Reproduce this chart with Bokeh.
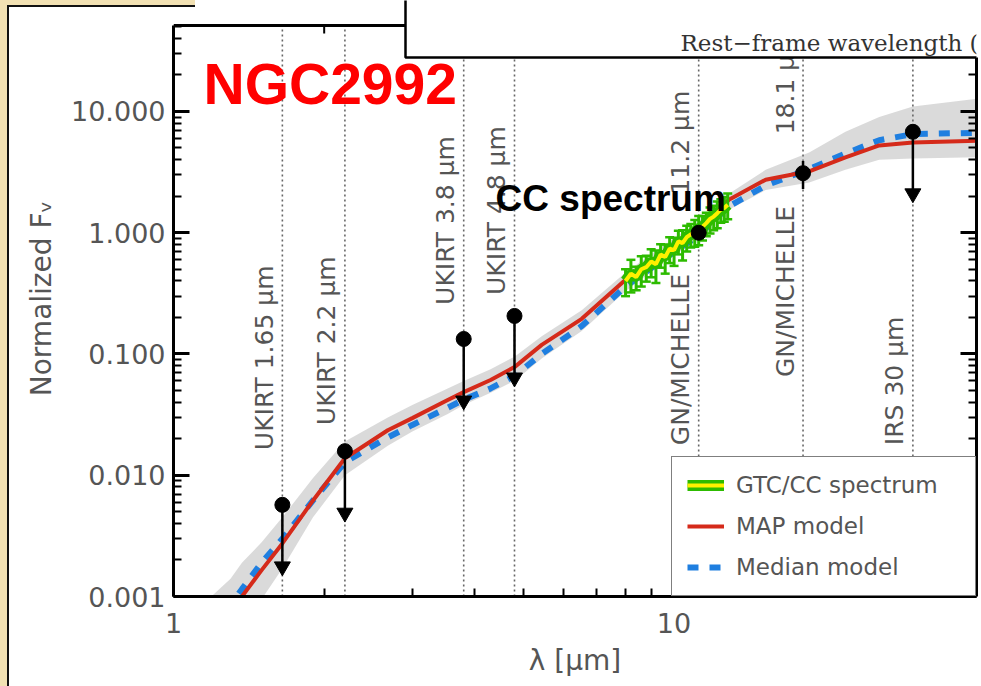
import math
from bokeh.plotting import figure
from bokeh.layouts import column
from bokeh.models import (LogAxis, FixedTicker, PrintfTickFormatter, Label,
                          BoxAnnotation, Legend, LegendItem, Range1d)
from bokeh.core.properties import value
from bokeh.embed import file_html
from bokeh.resources import INLINE

# ---------------- data ----------------
model_wl = [1.19, 1.30, 1.37, 1.50, 1.65, 1.90, 2.20, 2.68, 3.00, 3.53, 3.80, 4.30, 4.80,
            5.44, 6.54, 8.00, 9.50, 11.12, 12.87, 15.24, 18.62, 22.0, 25.70, 30.0, 42.0]
map_model = [0.00047, 0.00075, 0.00100, 0.00165, 0.00274, 0.0062, 0.0138, 0.0235, 0.0296,
             0.0417, 0.0485, 0.061, 0.078, 0.119, 0.195, 0.409, 0.672, 1.06, 1.87, 2.74,
             3.21, 4.18, 5.25, 5.55, 5.75]
median_model = [0.00055, 0.00085, 0.00115, 0.0019, 0.0030, 0.0062, 0.0128, 0.0205, 0.026,
                0.036, 0.042, 0.052, 0.066, 0.100, 0.170, 0.36, 0.60, 0.93, 1.65, 2.45,
                3.35, 4.5, 5.8, 6.5, 6.7]
band_upper = [0.0010, 0.0014, 0.0019, 0.0028, 0.0045, 0.0095, 0.019, 0.030, 0.038, 0.052,
              0.060, 0.075, 0.095, 0.14, 0.23, 0.47, 0.78, 1.2, 2.1, 3.3, 4.6, 6.8, 9.0,
              11.0, 13.0]
band_lower = [0.0003, 0.0004, 0.0005, 0.00095, 0.0017, 0.0045, 0.0100, 0.0175, 0.023, 0.032,
              0.038, 0.048, 0.060, 0.092, 0.155, 0.33, 0.56, 0.88, 1.55, 2.25, 2.6, 3.3, 4.0,
              4.1, 4.2]

spec_wl = [8.0, 8.2, 8.4, 8.6, 8.8, 9.0, 9.2, 9.4, 9.6, 9.8, 10.0, 10.2, 10.4, 10.6, 10.8,
           11.0, 11.2, 11.4, 11.6, 11.8, 12.0, 12.2, 12.4, 12.6, 12.8]
spec_f = [0.40, 0.46, 0.43, 0.50, 0.52, 0.58, 0.55, 0.66, 0.63, 0.74, 0.72, 0.85, 0.82,
          0.92, 0.97, 1.02, 1.08, 1.12, 1.20, 1.30, 1.36, 1.45, 1.55, 1.60, 1.70]
spec_err = [0.25, 0.30, 0.22, 0.28, 0.24, 0.26, 0.30, 0.22, 0.27, 0.24, 0.26, 0.22, 0.28,
            0.24, 0.22, 0.25, 0.27, 0.23, 0.22, 0.24, 0.23, 0.25, 0.22, 0.23, 0.24]

phot_wl = [1.65, 2.2, 3.8, 4.8, 11.2, 18.1, 30.0]
phot_f = [0.0057, 0.0158, 0.133, 0.206, 1.0, 3.1, 6.8]
phot_err = [0.0, 0.0, 0.0, 0.0, 0.1, 0.8, 0.0]
is_upper = [True, True, True, True, False, False, True]

filter_wl = [1.65, 2.2, 3.8, 4.8, 11.2, 18.1, 30.0]
NB = "\u00a0"
filter_labels = ["UKIRT 1.65 μm", "UKIRT 2.2 μm", "UKIRT 3.8 μm", "UKIRT 4.8 μm",
                 "GN/MICHELLE" + NB * 10 + "11.2 μm", "GN/MICHELLE" + NB * 9 + "18.1 μm",
                 "IRS 30 μm"]
label_y = [0.0161, 0.0259, 0.254, 0.307, 0.0177, 0.0646, 0.0177]

x_ticks = [1, 10]
y_ticks = [0.001, 0.01, 0.1, 1, 10]

# ---------------- styles ----------------
GREY_TXT = "#555555"
RED = "#d52a1a"
BLUE = "#1f7fe0"
GREEN = "#2dbb00"
YELLOW = "#fff000"
BEIGE = "#f2e1b3"
XMIN, XMAX = 1.0, 40.2
YMIN, YTOP = 0.001, 51.2     # visible plot box
YFRAME = 82.3                # frame extends up to the canvas top (room for the inset panel)
X_INSET = 2.907              # where the overlapping inset panel starts (x data)
Y_INSET = 27.9               # where the overlapping inset panel ends (y data)

p = figure(width=981, height=686, x_axis_type="log", y_axis_type="log",
           x_range=Range1d(XMIN, XMAX), y_range=Range1d(YMIN, YFRAME),
           output_backend="svg", toolbar_location=None,
           min_border_left=173, min_border_right=5, min_border_top=0,
           min_border_bottom=90, background_fill_color=None,
           border_fill_color=None, outline_line_color=None)
p.grid.visible = False

x_minor = [m * d for d in (1, 10) for m in range(2, 10)]
y_minor = [m * d for d in y_ticks for m in range(2, 10)]


def style_axis(ax, ticks, minor, show_labels):
    ax.ticker = FixedTicker(ticks=ticks, minor_ticks=minor)
    ax.axis_line_width = 3
    ax.axis_line_color = "black"
    ax.major_tick_line_width = 3
    ax.major_tick_line_color = "black"
    ax.minor_tick_line_width = 2
    ax.minor_tick_line_color = "black"
    ax.major_tick_in = 16
    ax.major_tick_out = 0
    ax.minor_tick_in = 8
    ax.minor_tick_out = 0
    if show_labels:
        ax.major_label_text_font = "DejaVu Sans"
        ax.major_label_text_font_size = "27px"
        ax.major_label_text_color = GREY_TXT
        ax.axis_label_text_font = "DejaVu Sans"
        ax.axis_label_text_font_size = "28px"
        ax.axis_label_text_font_style = "normal"
        ax.axis_label_text_color = GREY_TXT
    else:
        ax.major_label_text_font_size = "1px"
        ax.major_label_text_alpha = 0.0
        ax.major_label_standoff = 0


xb = p.xaxis[0]
style_axis(xb, x_ticks, x_minor, True)
xb.formatter = PrintfTickFormatter(format="%d")
xb.major_label_standoff = 16
xb.axis_label = "λ [μm]"
xb.axis_label_standoff = 8

yl = p.yaxis[0]
style_axis(yl, y_ticks, [m for m in y_minor if m <= YTOP], True)
yl.bounds = (YMIN, YTOP)
yl.formatter = PrintfTickFormatter(format="%.3f")
yl.major_label_standoff = 8
yl.axis_label = "Normalized F\u1d65"
yl.axis_label_standoff = 10

yr = LogAxis(bounds=(YMIN, Y_INSET))
style_axis(yr, y_ticks, [m for m in y_minor if m <= Y_INSET], False)
p.add_layout(yr, "right")

# model band
p.varea(x=model_wl, y1=band_lower, y2=band_upper, fill_color="#d6d6d6", fill_alpha=0.9)

# filter lines + labels
p.segment(x0=filter_wl, y0=[YMIN] * len(filter_wl), x1=filter_wl, y1=[YTOP] * len(filter_wl),
          line_color="#666666", line_width=1.6, line_dash="2 3")
label_x = [w * 10 ** (-18 / 500.6) for w in filter_wl]
p.text(x=label_x, y=label_y, text=filter_labels, angle=math.pi / 2,
       text_align="left", text_baseline="alphabetic",
       text_font=value("DejaVu Sans"), text_font_size="25px", text_color=GREY_TXT)

# top edge of the plot box (visible part left of the inset) with its ticks
p.segment(x0=[XMIN], y0=[YTOP], x1=[X_INSET], y1=[YTOP], line_color="black", line_width=3)
top_minor = [m for m in x_minor if m < X_INSET]
p.segment(x0=top_minor, y0=[YTOP] * len(top_minor), x1=top_minor,
          y1=[YTOP * 10 ** (-8 / 121.25)] * len(top_minor), line_color="black", line_width=2)

# models
r_med = p.line(model_wl, median_model, line_color=BLUE, line_width=6, line_dash="11 11")
r_map = p.line(model_wl, map_model, line_color=RED, line_width=4)

# spectrum
spec_lo = [f * (1 - e) for f, e in zip(spec_f, spec_err)]
spec_hi = [f * (1 + e) for f, e in zip(spec_f, spec_err)]
p.segment(x0=spec_wl, y0=spec_lo, x1=spec_wl, y1=spec_hi, line_color=GREEN, line_width=3)
p.scatter(spec_wl, spec_lo, marker="dash", size=9, line_color=GREEN, line_width=2.5)
p.scatter(spec_wl, spec_hi, marker="dash", size=9, line_color=GREEN, line_width=2.5)
r_spec_g = p.line(spec_wl, spec_f, line_color=GREEN, line_width=11)
r_spec = p.line(spec_wl, spec_f, line_color=YELLOW, line_width=4)

# photometry
arrow_factor = 0.31
ul_wl = [w for w, u in zip(phot_wl, is_upper) if u]
ul_f = [f for f, u in zip(phot_f, is_upper) if u]
ul_end = [f * arrow_factor for f in ul_f]
p.segment(x0=ul_wl, y0=ul_f, x1=ul_wl, y1=ul_end, line_color="black", line_width=2.5)
p.scatter(ul_wl, ul_end, marker="inverted_triangle", size=16, color="black")
det_wl = [w for w, u in zip(phot_wl, is_upper) if not u]
det_f = [f for f, u in zip(phot_f, is_upper) if not u]
det_e = [e for e, u in zip(phot_err, is_upper) if not u]
p.segment(x0=det_wl, y0=[f - e for f, e in zip(det_f, det_e)], x1=det_wl,
          y1=[f + e for f, e in zip(det_f, det_e)], line_color="black", line_width=2.5)
p.scatter(phot_wl, phot_f, size=15, color="black")

legend = Legend(items=[LegendItem(label="GTC/CC spectrum", renderers=[r_spec_g, r_spec]),
                       LegendItem(label="MAP model", renderers=[r_map]),
                       LegendItem(label="Median model", renderers=[r_med])],
                location="bottom_right", margin=0, padding=15, spacing=15,
                glyph_width=37, glyph_height=24, label_height=24, label_width=224,
                label_standoff=12, label_text_font="DejaVu Sans",
                label_text_font_size="23px", label_text_color=GREY_TXT,
                border_line_color="black", border_line_width=1.5,
                background_fill_color="white", background_fill_alpha=1.0)
p.add_layout(legend)

# annotations
p.add_layout(Label(x=1.148, y=16.7, text="NGC2992", text_font="Liberation Sans",
                   text_font_style="bold", text_font_size="57px", text_color="#ff0000",
                   text_baseline="alphabetic"))
p.add_layout(Label(x=4.40, y=1.916, text="CC spectrum", text_font="Liberation Sans",
                   text_font_style="bold", text_font_size="37px", text_color="black",
                   text_baseline="alphabetic"))

# inset panel overlapping the top-right of the plot
p.add_layout(BoxAnnotation(left=405, right=990, top=-10, bottom=57,
                           left_units="canvas", right_units="canvas",
                           top_units="canvas", bottom_units="canvas",
                           fill_color="white", fill_alpha=1.0, line_alpha=1.0,
                           line_dash="solid", line_color="black", line_width=2.5,
                           level="overlay"))
p.add_layout(Label(x=680, y=42.5, x_units="canvas", y_units="canvas",
                   text="Rest−frame wavelength (μm)", text_font="DejaVu Serif",
                   text_font_size="23px", text_color="#333333",
                   text_baseline="alphabetic", level="overlay"))

# slide background: beige margin strip and the black edge of the slide panel
page_bg = (f"linear-gradient(#111111, #111111) 7px 5px / 188px 2px no-repeat, "
           f"linear-gradient({BEIGE}, {BEIGE}) 0px 0px / 195px 5px no-repeat, "
           f"linear-gradient(to right, {BEIGE} 0px, {BEIGE} 7px, #111111 7px, "
           f"#111111 9px, #ffffff 9px)")
root = column(p, styles={"background": page_bg})
open("out.html", "w").write(file_html(root, INLINE))
